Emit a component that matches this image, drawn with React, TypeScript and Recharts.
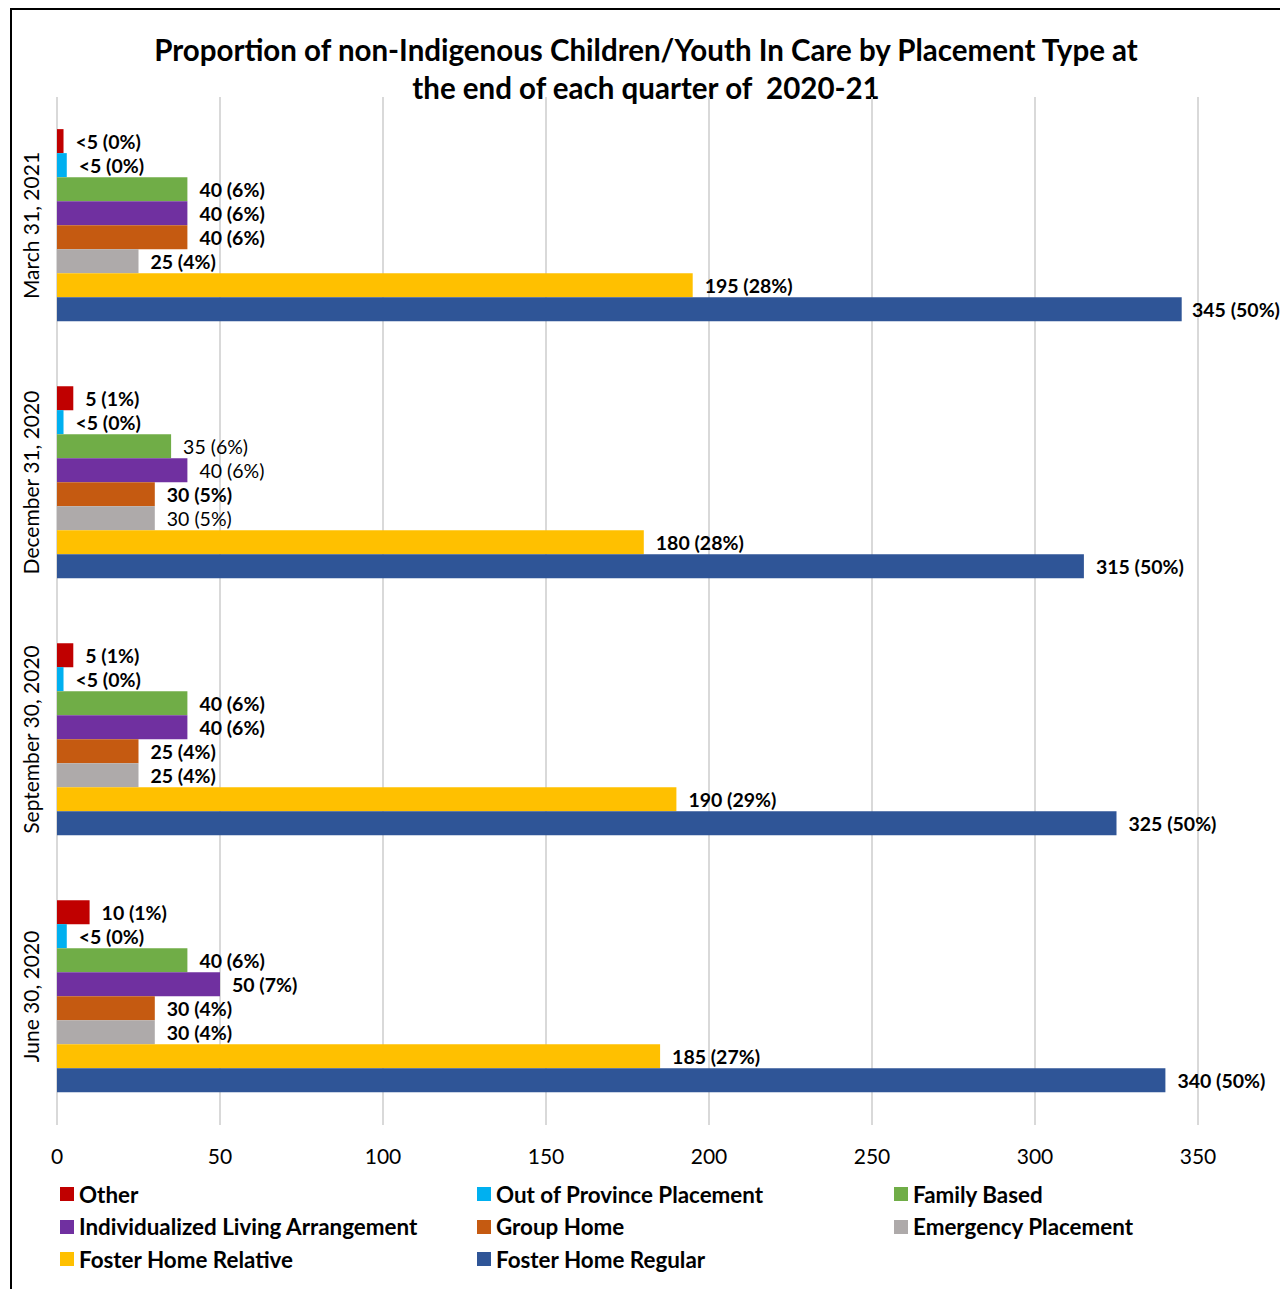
import React from 'react';
import { BarChart, Bar, XAxis, YAxis, CartesianGrid, LabelList } from 'recharts';

const categories = ['March 31, 2021', 'December 31, 2020', 'September 30, 2020', 'June 30, 2020'];

const seriesNames = [
  'Other',
  'Out of Province Placement',
  'Family Based',
  'Individualized Living Arrangement',
  'Group Home',
  'Emergency Placement',
  'Foster Home Relative',
  'Foster Home Regular',
];
const seriesColors = ['#C00000', '#00B0F0', '#70AD47', '#7030A0', '#C55A11', '#AEAAAA', '#FFC000', '#2F5597'];

// values per quarter, same order as categories
const other = [2, 5, 5, 10];
const outOfProvince = [3, 2, 2, 3];
const familyBased = [40, 35, 40, 40];
const individualized = [40, 40, 40, 50];
const groupHome = [40, 30, 25, 30];
const emergency = [25, 30, 25, 30];
const fosterRelative = [195, 180, 190, 185];
const fosterRegular = [345, 315, 325, 340];

const otherLabels = ['<5 (0%)', '5 (1%)', '5 (1%)', '10 (1%)'];
const outOfProvinceLabels = ['<5 (0%)', '<5 (0%)', '<5 (0%)', '<5 (0%)'];
const familyBasedLabels = ['40 (6%)', '35 (6%)', '40 (6%)', '40 (6%)'];
const individualizedLabels = ['40 (6%)', '40 (6%)', '40 (6%)', '50 (7%)'];
const groupHomeLabels = ['40 (6%)', '30 (5%)', '25 (4%)', '30 (4%)'];
const emergencyLabels = ['25 (4%)', '30 (5%)', '25 (4%)', '30 (4%)'];
const fosterRelativeLabels = ['195 (28%)', '180 (28%)', '190 (29%)', '185 (27%)'];
const fosterRegularLabels = ['345 (50%)', '315 (50%)', '325 (50%)', '340 (50%)'];

// which labels are bold (the rest are regular weight)
const familyBasedBold = [true, false, true, true];
const individualizedBold = [true, false, true, true];
const emergencyBold = [true, false, true, true];
const allBold = [true, true, true, true];

const xTicks = [0, 50, 100, 150, 200, 250, 300, 350];

const seriesValues = [other, outOfProvince, familyBased, individualized, groupHome, emergency, fosterRelative, fosterRegular];
const seriesLabels = [
  otherLabels, outOfProvinceLabels, familyBasedLabels, individualizedLabels,
  groupHomeLabels, emergencyLabels, fosterRelativeLabels, fosterRegularLabels,
];
const seriesBold = [allBold, allBold, familyBasedBold, individualizedBold, allBold, emergencyBold, allBold, allBold];

const data = categories.map((name, i) => {
  const row: Record<string, string | number> = { name };
  seriesValues.forEach((vals, s) => {
    row['s' + s] = vals[i];
    row['l' + s] = seriesLabels[s][i];
  });
  return row;
});

const FONT = 'Lato, "Open Sans", sans-serif';
const CHART_W = 1272;

const YTick = (props: any) => {
  const { y, payload } = props;
  return (
    <text
      x={22}
      y={y}
      transform={`rotate(-90, 22, ${y})`}
      textAnchor="middle"
      dominantBaseline="central"
      fontSize={21}
      fontFamily={FONT}
      fill="#000"
    >
      {payload.value}
    </text>
  );
};

const makeLabel = (s: number) => (props: any) => {
  const { x, y, width, height, value, index } = props;
  const bold = seriesBold[s][index ?? 0];
  // keep the label inside the frame when the bar runs close to the edge
  const lx = Math.min(Number(x) + Number(width) + 12, CHART_W - 88);
  return (
    <text
      x={lx}
      y={Number(y) + Number(height) / 2}
      dominantBaseline="central"
      fontSize={19.5}
      fontWeight={bold ? 700 : 400}
      fontFamily={FONT}
      fill="#000"
    >
      {value}
    </text>
  );
};

export default function App() {
  return (
    <div
      style={{
        position: 'absolute',
        left: 8,
        top: 8,
        width: CHART_W,
        height: 1281,
        overflow: 'hidden',
        background: '#fff',
        fontFamily: FONT,
      }}
    >
      <div
        style={{
          position: 'absolute',
          left: 2,
          top: 0,
          width: 1400,
          height: 1400,
          borderLeft: '2px solid #000',
          borderTop: '2px solid #000',
        }}
      />
      <div
        style={{
          position: 'absolute',
          left: 0,
          top: 23,
          width: 1276,
          textAlign: 'center',
          fontSize: 29.5,
          fontWeight: 700,
          lineHeight: '38px',
          color: '#000',
        }}
      >
        Proportion of non-Indigenous Children/Youth In Care by Placement Type at
        <br />
        the end of each quarter of&nbsp; 2020-21
      </div>
      <div style={{ position: 'absolute', left: 0, top: 0 }}>
        <BarChart
          width={CHART_W}
          height={1281}
          data={data}
          layout="vertical"
          margin={{ top: 89, right: 82, bottom: 124, left: 0 }}
          barCategoryGap="12.5%"
          barGap={0}
        >
          <CartesianGrid horizontal={false} stroke="#d9d9d9" strokeWidth={2} />
          <XAxis
            type="number"
            domain={[0, 350]}
            ticks={xTicks}
            axisLine={false}
            tickLine={false}
            tickMargin={18}
            height={40}
            tick={{ fontSize: 21, fill: '#000', fontFamily: FONT }}
          />
          <YAxis
            type="category"
            dataKey="name"
            width={49}
            axisLine={false}
            tickLine={false}
            tick={<YTick />}
          />
          {seriesNames.map((n, s) => (
            <Bar key={n} dataKey={'s' + s} name={n} fill={seriesColors[s]} isAnimationActive={false}>
              <LabelList dataKey={'l' + s} content={makeLabel(s)} />
            </Bar>
          ))}
        </BarChart>
      </div>
      {seriesNames.map((n, s) => (
        <div
          key={n}
          style={{
            position: 'absolute',
            left: [52, 469, 886][s % 3],
            top: 1186 + Math.floor(s / 3) * 32.5 - 13,
            height: 26,
            display: 'flex',
            alignItems: 'center',
            fontSize: 22.4,
            fontWeight: 700,
            color: '#000',
            whiteSpace: 'nowrap',
          }}
        >
          <span style={{ width: 14, height: 14, background: seriesColors[s], marginRight: 5, display: 'inline-block' }} />
          {n}
        </div>
      ))}
    </div>
  );
}
